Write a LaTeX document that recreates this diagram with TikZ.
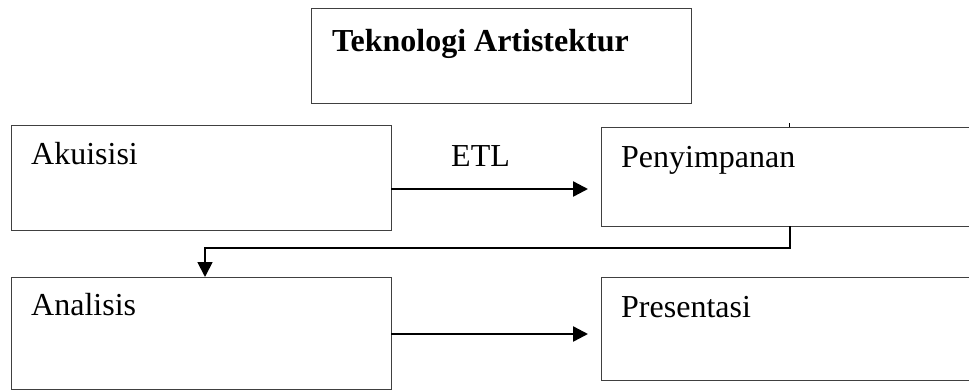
\documentclass[tikz,border=0pt]{standalone}
\usepackage{fontspec}
\setmainfont{Liberation Serif}
\usetikzlibrary{arrows.meta}
\begin{document}
\begin{tikzpicture}[x=1pt,y=-1pt,
  boxstyle/.style={draw=black!75,line width=1.2pt,rectangle,inner sep=0pt,anchor=north west},
  lbl/.style={anchor=base west,inner sep=0pt,font=\fontsize{32}{37}\selectfont},
  tip/.style={-{Triangle[length=15pt,width=15pt]}},
  conn/.style={line width=2.4pt,tip}]
\useasboundingbox (0,0) rectangle (969,391);
\clip (0,0) rectangle (969,391);
% boxes
\node[boxstyle,minimum width=380pt,minimum height=95pt] (top) at (311,8) {};
\node[boxstyle,minimum width=380pt,minimum height=105pt] (aku) at (11,125) {};
\node[boxstyle,minimum width=380pt,minimum height=99pt] (pen) at (601,127) {};
\node[boxstyle,minimum width=380pt,minimum height=112pt] (ana) at (11,277) {};
\node[boxstyle,minimum width=380pt,minimum height=103pt] (pre) at (601,277) {};
% labels
\node[lbl,font=\fontsize{32}{37}\selectfont\bfseries] (ttop) at (332,51) {Teknologi Artistektur};
\node[lbl] (taku) at (31,164) {Akuisisi};
\node[lbl] (tpen) at (621,167) {Penyimpanan};
\node[lbl] (tana) at (31,315) {Analisis};
\node[lbl] (tpre) at (621,317) {Presentasi};
\node[lbl] (tetl) at (451,166) {ETL};
% connectors
\coordinate (p1) at (391,189);
\coordinate (a1) at (588,189);
\draw[conn] (p1) -- (a1);
\coordinate (p2) at (391,334);
\coordinate (a2) at (588,334);
\draw[conn] (p2) -- (a2);
\coordinate (c0) at (790,226);
\coordinate (c3) at (205,277);
\draw[line width=1.8pt,tip] (c0) -- (790,248) -- (205,248) -- (c3);
% stray tick
\coordinate (t0) at (789,123);
\draw[line width=1pt] (t0) -- (789,127);
\end{tikzpicture}
\end{document}
